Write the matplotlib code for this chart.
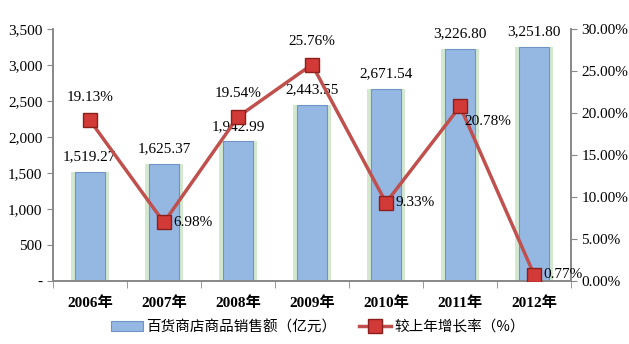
import matplotlib.pyplot as plt
import numpy as np
from matplotlib.ticker import FuncFormatter

plt.rcParams['font.family'] = ['Liberation Serif', 'Noto Sans CJK SC']

years = ['2006年', '2007年', '2008年', '2009年', '2010年', '2011年', '2012年']
sales = [1519.27, 1625.37, 1942.99, 2443.55, 2671.54, 3226.80, 3251.80]
growth = [19.13, 6.98, 19.54, 25.76, 9.33, 20.78, 0.77]
# where each growth label sits relative to its marker
growth_pos = ['above', 'right', 'above', 'above', 'right', 'below', 'right']

fig = plt.figure(figsize=(6.29, 3.44), dpi=100)
ax = fig.add_axes([0.084, 0.183, 0.824, 0.733])
ax2 = ax.twinx()

x = np.arange(len(years))
# pale green halo behind bars
ax.bar(x, sales, width=0.52, color='#d3e8cf', zorder=1)
bars = ax.bar(x, sales, width=0.4, color='#95b8e3', edgecolor='#6f93c4',
              linewidth=0.8, zorder=2, label='百货商店商品销售额（亿元）')
for xi, v in zip(x, sales):
    ax.annotate(f'{v:,.2f}', (xi, v), xytext=(0, 6), textcoords='offset points',
                ha='center', va='bottom', fontsize=11)

ln, = ax2.plot(x, growth, color='#c0504d', lw=2.5, marker='s', markersize=10,
               markerfacecolor='#d13a36', markeredgecolor='#8b1f1c',
               label='较上年增长率（%）', zorder=3)
for xi, g, p in zip(x, growth, growth_pos):
    if p == 'above':
        off, ha, va = (0, 12), 'center', 'bottom'
    elif p == 'right':
        off, ha, va = (7, 0), 'left', 'center'
    else:
        off, ha, va = (3, -6), 'left', 'top'
    ax2.annotate(f'{g:.2f}%', (xi, g), xytext=off, textcoords='offset points',
                 ha=ha, va=va, fontsize=11)

ax.set_xlim(-0.5, len(years) - 0.5)
ax.set_ylim(0, 3500)
ax.set_yticks(np.arange(0, 3501, 500))
ax.yaxis.set_major_formatter(FuncFormatter(lambda v, p: '-' if v == 0 else f'{v:,.0f}'))
ax2.set_ylim(0, 30)
ax2.set_yticks(np.arange(0, 30.1, 5))
ax2.yaxis.set_major_formatter(FuncFormatter(lambda v, p: f'{v:.2f}%'))

ax.set_xticks(x)
ax.set_xticklabels(years, fontsize=11, fontweight='bold')
ax.set_xticks(np.arange(-0.5, len(years), 1), minor=True)
ax.tick_params(axis='x', which='major', length=0, pad=11)
ax.tick_params(axis='x', which='minor', length=5, color='#888888')
ax.tick_params(axis='y', labelsize=11, length=4, color='#888888')
ax2.tick_params(axis='y', labelsize=11, length=4, color='#888888')

for a in (ax, ax2):
    a.spines['top'].set_visible(False)
    for s in ('left', 'right', 'bottom'):
        a.spines[s].set_color('#888888')
        a.spines[s].set_linewidth(1.2)

fig.legend([bars, ln], ['百货商店商品销售额（亿元）', '较上年增长率（%）'],
           loc='lower center', bbox_to_anchor=(0.505, -0.01), ncol=2, frameon=False,
           handlelength=2.2, handletextpad=0.2, columnspacing=1.6,
           prop={'family': ['Noto Sans CJK SC'], 'size': 10.5})

fig.savefig('out.png', dpi=100)
